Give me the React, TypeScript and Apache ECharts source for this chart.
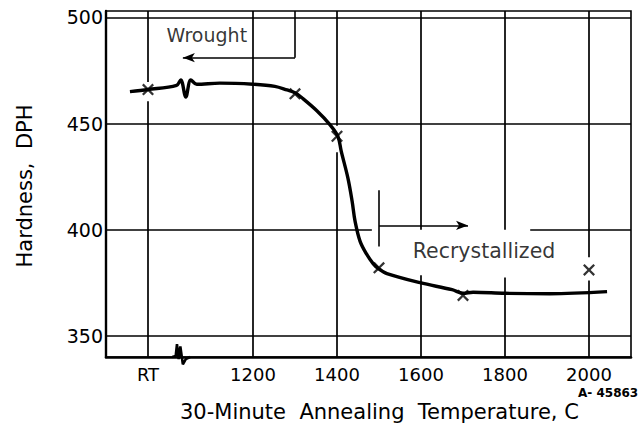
import React, { useEffect, useRef } from "react";
import * as echarts from "echarts";

// Measured hardness points (x markers)
const markerTemps = [950, 1300, 1400, 1500, 1700, 2000];
const markerHardness = [466, 464, 444, 382, 369, 381];

// Hand-drawn curve through the data (incl. break squiggle)
const curveTemps = [907, 950, 1018, 1028, 1040, 1052, 1066, 1121, 1200, 1252, 1281, 1300, 1317, 1352, 1383, 1402, 1410, 1426, 1436, 1443, 1455, 1471, 1486, 1498, 1519, 1598, 1674, 1700, 1724, 1800, 1907, 2043];
const curveHardness = [465, 466, 468, 470.5, 462.5, 470.5, 468.5, 469, 468.5, 467.5, 465.8, 464.5, 462, 456, 449.5, 444, 437, 424.3, 413.4, 404, 394.5, 388.3, 384, 381.7, 379.3, 375, 371.7, 370, 370.5, 370, 369.8, 370.8];

// Axis break squiggle on the temperature axis
const breakTemps = [1008, 1016, 1019, 1023, 1027, 1033, 1040, 1050];
const breakHardness = [340, 340.5, 346, 339, 345, 336.5, 339, 340];

// Tick labels
const xTickValues = [950, 1200, 1400, 1600, 1800, 2000];
const xTickLabels = ["RT", "1200", "1400", "1600", "1800", "2000"];
const yTickValues = [350, 400, 450, 500];

// Grid lines: [temp, hardnessFrom, hardnessTo]
const verticalGrid = [
  [950, 340, 460.5], [950, 469.5, 503],
  [1200, 340, 503],
  [1400, 340, 436.5], [1400, 449, 503],
  [1600, 340, 378.5], [1600, 400, 503],
  [1800, 340, 377.5], [1800, 400, 503],
  [2000, 340, 376], [2000, 387, 503],
];
// [hardness, tempFrom, tempTo]
const horizontalGrid = [
  [350, 850, 2100],
  [400, 850, 1483], [400, 1860, 2100],
  [450, 850, 2100],
  [500, 850, 2100],
];

// Annotations
const wroughtArrow = [[1300, 481], [1033, 481]];
const wroughtBar = [[1300, 481], [1300, 503]];
const recrystArrow = [[1500, 402], [1712, 402]];
const recrystBar = [[1500, 392], [1500, 418.5]];
const annotationTexts = [
  { name: "Wrought", value: [1090, 491.5], size: 19 },
  { name: "Recrystallized", value: [1750, 390], size: 20.5 },
];

const FONT = "DejaVu Sans";
const INK = "#000";
const X_SYMBOL =
  "path://M0,1.6L1.6,0L6,4.4L10.4,0L12,1.6L7.6,6L12,10.4L10.4,12L6,7.6L1.6,12L0,10.4L4.4,6Z";

export default function App() {
  const ref = useRef<HTMLDivElement>(null);
  useEffect(() => {
    if (!ref.current) return;
    const chart = echarts.init(ref.current, null, { renderer: "svg" });

    const gridSegs: any[] = [];
    verticalGrid.forEach(([x, y1, y2]) =>
      gridSegs.push([{ coord: [x, y1] }, { coord: [x, y2] }])
    );
    horizontalGrid.forEach(([y, x1, x2]) =>
      gridSegs.push([{ coord: [x1, y] }, { coord: [x2, y] }])
    );

    const arrowEnd = (c: number[]) => ({ coord: c, symbol: "arrow", symbolSize: [7, 12] });

    const option: any = {
      animation: false,
      backgroundColor: "#fff",
      grid: {
        left: 106,
        right: 11,
        top: 11,
        bottom: 74,
        show: true,
        borderColor: INK,
        borderWidth: 1.6,
      },
      xAxis: {
        type: "value",
        min: 850,
        max: 2100,
        interval: 50,
        axisLine: { show: true, lineStyle: { color: INK, width: 2.6 } },
        axisTick: { show: false },
        splitLine: { show: false },
        axisLabel: {
          color: INK,
          fontFamily: FONT,
          fontSize: 18,
          margin: 8,
          formatter: (v: number) => {
            const i = xTickValues.indexOf(v);
            return i >= 0 ? xTickLabels[i] : "";
          },
        },
      },
      yAxis: {
        type: "value",
        min: 340,
        max: 503,
        interval: 10,
        axisLine: { show: true, lineStyle: { color: INK, width: 2.4 } },
        axisTick: { show: false },
        splitLine: { show: false },
        axisLabel: {
          color: INK,
          fontFamily: FONT,
          fontSize: 19,
          margin: 3,
          formatter: (v: number) => (yTickValues.indexOf(v) >= 0 ? String(v) : ""),
        },
      },
      graphic: [
        {
          type: "text",
          x: 180,
          y: 412,
          style: {
            text: "30-Minute\u00a0\u00a0Annealing\u00a0\u00a0Temperature,\u00a0C",
            fontFamily: FONT,
            fontSize: 21,
            fill: INK,
            verticalAlign: "middle",
          },
        },
        {
          type: "text",
          x: 25,
          y: 186,
          rotation: Math.PI / 2,
          style: {
            text: "Hardness,\u00a0\u00a0DPH",
            fontFamily: FONT,
            fontSize: 21,
            fill: INK,
            align: "center",
            verticalAlign: "middle",
          },
        },
        {
          type: "text",
          x: 578,
          y: 393,
          style: {
            text: "A-\u00a045863",
            fontFamily: FONT,
            fontSize: 12,
            fontWeight: "bold",
            fill: INK,
            verticalAlign: "middle",
          },
        },
      ],
      series: [
        {
          type: "line",
          data: [],
          silent: true,
          markLine: {
            silent: true,
            symbol: "none",
            label: { show: false },
            lineStyle: { color: INK, width: 1.7, type: "solid" },
            data: gridSegs,
          },
        },
        {
          type: "line",
          data: [],
          silent: true,
          markLine: {
            silent: true,
            symbol: "none",
            label: { show: false },
            lineStyle: { color: INK, width: 1.6, type: "solid" },
            data: [
              [{ coord: wroughtBar[0] }, { coord: wroughtBar[1] }],
              [{ coord: recrystBar[0] }, { coord: recrystBar[1] }],
            ],
          },
        },
        {
          type: "line",
          data: [],
          silent: true,
          markLine: {
            silent: true,
            symbol: "none",
            label: { show: false },
            itemStyle: { color: INK },
            lineStyle: { color: INK, width: 1.6, type: "solid" },
            data: [
              [{ coord: wroughtArrow[0], symbol: "none" }, arrowEnd(wroughtArrow[1])],
              [{ coord: recrystArrow[0], symbol: "none" }, arrowEnd(recrystArrow[1])],
            ],
          },
        },
        {
          name: "curve",
          type: "line",
          smooth: 0.35,
          showSymbol: false,
          symbol: "none",
          lineStyle: { color: INK, width: 3.4 },
          data: curveTemps.map((t, i) => [t, curveHardness[i]]),
          z: 3,
        },
        {
          name: "break",
          type: "line",
          showSymbol: false,
          symbol: "none",
          clip: false,
          lineStyle: { color: INK, width: 2.6 },
          data: breakTemps.map((t, i) => [t, breakHardness[i]]),
          z: 3,
        },
        {
          name: "points",
          type: "scatter",
          symbol: X_SYMBOL,
          symbolSize: 12,
          itemStyle: { color: INK },
          data: markerTemps.map((t, i) => [t, markerHardness[i]]),
          z: 4,
        },
        {
          name: "labels",
          type: "scatter",
          symbolSize: 1,
          itemStyle: { color: "rgba(0,0,0,0)" },
          label: {
            show: true,
            position: "inside",
            formatter: (p: any) => p.name,
            color: INK,
            fontFamily: FONT,
            fontSize: 19,
          },
          data: annotationTexts.map((a) => ({
            name: a.name,
            value: a.value,
            label: { fontSize: a.size },
          })),
          z: 5,
        },
      ],
    };
    chart.setOption(option);
    return () => chart.dispose();
  }, []);
  return (
    <div
      ref={ref}
      style={{ position: "fixed", left: 0, top: 0, width: 642, height: 431 }}
    />
  );
}
